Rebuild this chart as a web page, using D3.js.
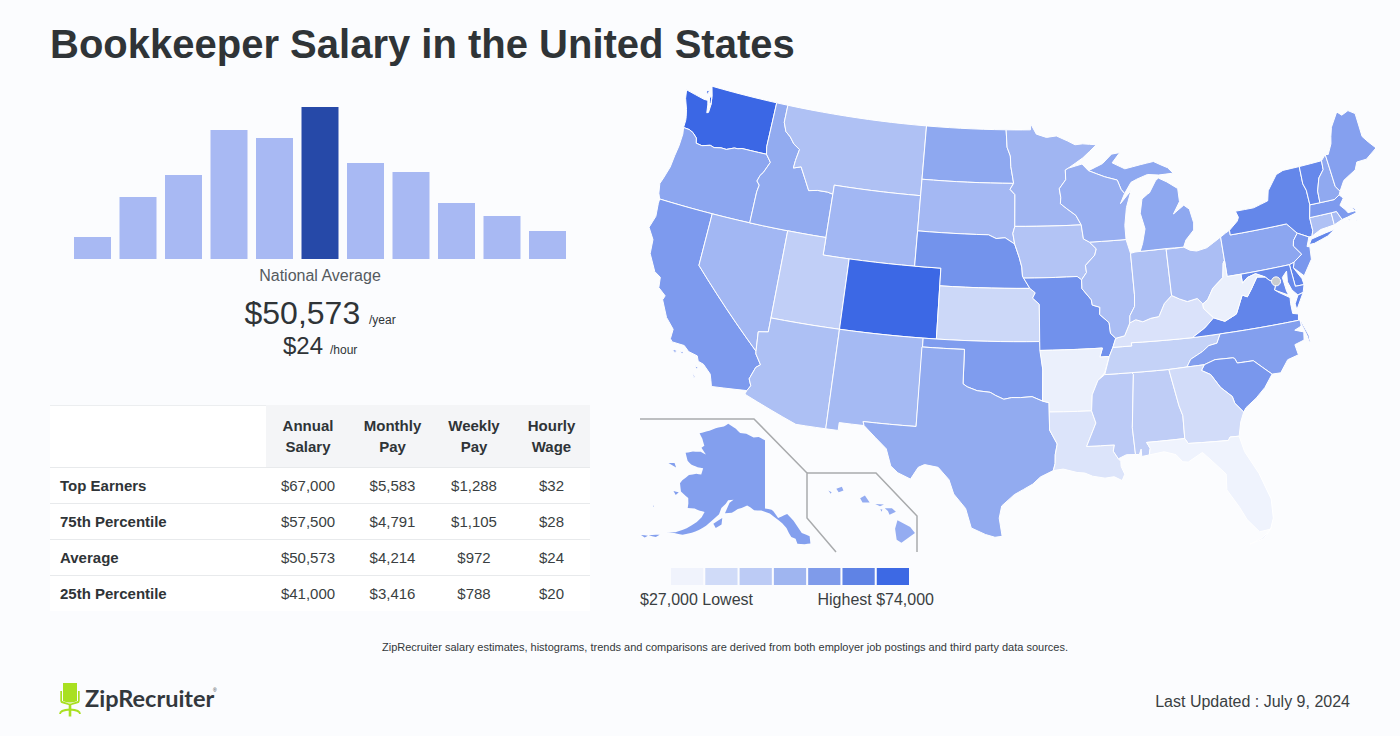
<!DOCTYPE html>
<html><head><meta charset="utf-8">
<script src="https://cdn.jsdelivr.net/npm/d3@7"></script>
<style>
html,body{margin:0;padding:0;background:#fbfcfe;}
svg{display:block;font-family:"Liberation Sans",Arial,Helvetica,sans-serif;}
</style></head><body>
<svg id="c" width="1400" height="736"></svg>
<script>
// ---------- chart data ----------
const histogramBins = [22,62,84,129,121,152,96,87,56,43,28];
const highlightedBin = 5;
const tableColumns = [["Annual","Salary"],["Monthly","Pay"],["Weekly","Pay"],["Hourly","Wage"]];
const tableRowLabels = ["Top Earners","75th Percentile","Average","25th Percentile"];
const annualSalary = ["$67,000","$57,500","$50,573","$41,000"];
const monthlyPay = ["$5,583","$4,791","$4,214","$3,416"];
const weeklyPay = ["$1,288","$1,105","$972","$788"];
const hourlyWage = ["$32","$28","$24","$20"];
const legendColors = ["#f0f3fc","#d0dbf8","#bccbf5","#9fb5f0","#7f9bea","#5f83e5","#3d69e4"];
const stateSalaries = {WA:74000,CO:73800,NY:63500,VA:64000,VT:63000,DE:64500,NJ:58000,MD:62500,CT:44000,MA:57000,RI:46000,NH:52000,ME:55000,
 PA:53000,OH:45000,IN:44000,IL:45000,MI:52500,WI:50000,MN:48000,IA:43000,MO:60000,KS:36500,NE:59500,SD:47000,ND:52500,MT:44000,WY:47500,ID:51500,
 OR:53000,NV:47500,UT:39500,CA:57000,AZ:44500,NM:46500,TX:51500,OK:56500,AR:28500,LA:32500,MS:41000,AL:40000,GA:35000,FL:27500,SC:58000,NC:55500,
 TN:38500,KY:33000,WV:28500,AK:55500,HI:51000};
// state outlines: "west-longitude,latitude" pairs; "|" separates separate land pieces
const stateOutlines = {
WA:"124.73,48.38 123.1,48.15 122.75,48.15 122.65,47.9 122.55,47.45 122.42,47.5 122.4,47.95 122.5,48.45 122.75,49 117.03,49 117.04,46.42 116.92,46 118.98,46 119.3,45.93 119.6,45.92 120.2,45.73 120.65,45.74 121.2,45.65 121.55,45.72 122.2,45.57 122.7,45.62 122.8,45.9 123.2,46.15 123.55,46.25 124.05,46.27 124.05,46.7 124.1,46.9 124.25,47.3 124.6,47.9|123.1,48.65 122.85,48.72 122.9,48.45|122.72,48.4 122.5,48.35 122.4,47.98 122.55,48.05",
OR:"124.05,46.27 123.95,45.9 123.97,45.2 124.07,44.6 124.15,43.9 124.4,43.2 124.55,42.84 124.4,42.3 124.21,42 117.03,42 117.03,43.8 116.95,44.2 117.2,44.4 117.05,44.75 116.85,44.95 116.47,45.6 116.92,46 118.98,46 119.3,45.93 119.6,45.92 120.2,45.73 120.65,45.74 121.2,45.65 121.55,45.72 122.2,45.57 122.7,45.62 122.8,45.9 123.2,46.15 123.55,46.25",
CA:"124.21,42 120,42 120,39 114.63,35 114.6,34.85 114.14,34.3 114.43,34.1 114.72,33.4 114.52,33.03 114.72,32.72 117.13,32.53 117.25,32.85 117.4,33.2 118,33.65 118.4,33.75 118.55,34.03 119.2,34.15 119.6,34.42 120.47,34.45 120.65,34.6 120.63,35.15 121.3,35.7 121.9,36.6 121.8,36.85 122.4,37.2 122.5,37.78 123,38 123.7,38.9 123.8,39.7 124.35,40.3 124.1,41 124.21,41.75|119.9,34.05 119.5,34.05 119.6,33.95|120.35,34.05 120,34.05 120.1,33.9|118.55,33.47 118.3,33.4 118.4,33.3|118.6,33.05 118.35,32.85 118.45,32.8",
NV:"120,42 114.04,42 114.04,36.2 114.74,36.1 114.63,35 120,39",
ID:"117.03,49 116.05,49 116.05,48 115.75,47.5 115.3,47.25 114.9,46.9 114.35,46.65 114.5,46 114.55,45.55 113.95,45.7 113.45,45.05 113,44.45 112.3,44.55 111.5,44.55 111.05,44.48 111.05,42 117.03,42 117.03,43.8 116.95,44.2 117.2,44.4 117.05,44.75 116.85,44.95 116.47,45.6 116.92,46 117.04,46.42",
MT:"116.05,49 104.05,49 104.05,45 111.05,45 111.05,44.48 111.5,44.55 112.3,44.55 113,44.45 113.45,45.05 113.95,45.7 114.55,45.55 114.5,46 114.35,46.65 114.9,46.9 115.3,47.25 115.75,47.5 116.05,48",
WY:"111.05,45 104.05,45 104.05,41 111.05,41",
UT:"114.04,42 111.05,42 111.05,41 109.05,41 109.05,37 114.04,37",
CO:"109.05,41 102.05,41 102.05,37 109.05,37",
AZ:"114.04,37 109.05,37 109.05,31.33 111.07,31.33 114.81,32.5 114.72,32.72 114.52,33.03 114.72,33.4 114.43,34.1 114.14,34.3 114.6,34.85 114.63,35 114.74,36.1 114.04,36.2",
NM:"109.05,37 103,37 103.04,32 106.62,32 106.53,31.78 108.21,31.78 108.21,31.33 109.05,31.33",
ND:"104.05,49 97.23,49 97.13,48 96.85,47.5 96.8,46.9 96.56,45.94 104.05,45.94",
SD:"104.05,45.94 96.56,45.94 96.85,45.6 96.45,45.3 96.45,43.5 96.6,43.1 96.45,42.5 97.2,42.85 97.9,42.8 98.5,43 104.05,43",
NE:"104.05,43 98.5,43 97.9,42.8 97.2,42.85 96.45,42.5 96.1,41.75 95.9,41.2 95.85,40.7 95.3,40 102.05,40 102.05,41 104.05,41",
KS:"102.05,40 95.3,40 94.9,39.75 95.1,39.45 94.61,39.1 94.62,37 102.05,37",
OK:"103,37 94.62,37 94.43,35.4 94.48,33.64 95.2,33.9 96,33.85 96.6,33.85 97.15,33.75 97.7,33.95 98.1,34.13 99,34.2 99.7,34.4 100,34.56 100,36.5 103,36.5",
TX:"103.04,36.5 100,36.5 100,34.56 99.7,34.4 99,34.2 98.1,34.13 97.7,33.95 97.15,33.75 96.6,33.85 96,33.85 95.2,33.9 94.48,33.64 94.04,33.55 94.04,33.02 94.04,32 93.55,31.2 93.7,30.6 93.72,30.1 93.85,29.7 94.7,29.35 95.2,28.95 96.4,28.35 97.2,27.7 97.35,27 97.15,25.96 97.6,25.9 98.2,26.05 99.1,26.4 99.5,27.5 100.3,28.3 100.65,29.1 101.4,29.77 102.3,29.88 102.7,29.7 103.15,29 104,29.3 104.5,29.65 104.9,30.6 106.53,31.78 106.62,32 103.04,32",
MN:"97.23,49 95.15,49 95.15,49.38 94.65,48.75 93.8,48.55 92.95,48.62 92,48.3 91.4,48.07 90.75,48.1 89.6,48 90.8,47.3 92.05,46.75 92.3,46.65 92.3,46.1 92.85,45.6 92.75,45.1 92.8,44.75 92.3,44.45 91.6,44.05 91.22,43.5 96.45,43.5 96.45,45.3 96.85,45.6 96.56,45.94 96.8,46.9 96.85,47.5 97.13,48",
IA:"96.45,43.5 91.22,43.5 91.1,42.7 90.65,42.5 90.15,42.1 90.3,41.75 91.05,41.2 91,40.8 91.4,40.4 91.72,40.6 95.77,40.58 95.85,40.7 95.9,41.2 96.1,41.75 96.45,42.5 96.6,43.1",
MO:"95.77,40.58 91.72,40.6 91.4,40.4 91.4,39.9 90.75,39.25 90.7,38.95 90.15,38.8 90.2,38.4 89.55,37.9 89.5,37.3 89.15,37 89.4,36.5 89.7,36 90.37,36 90.15,36.5 94.62,36.5 94.62,37 94.61,39.1 95.1,39.45 94.9,39.75 95.3,40",
AR:"94.62,36.5 90.15,36.5 90.37,36 89.7,36 90.1,35.1 90.6,34.7 91.05,33.9 91.15,33 94.04,33.02 94.04,33.55 94.48,33.64 94.43,35.4",
LA:"94.04,33.02 91.15,33 90.9,32.3 91.6,31 89.75,31 89.85,30.65 89.55,30.2 89.4,30.05 89.4,29.75 89.2,29.3 89.4,28.95 89.9,29.2 90.5,29.15 91.3,29.3 91.8,29.5 92.3,29.55 93.2,29.77 93.85,29.7 93.72,30.1 93.7,30.6 93.55,31.2 94.04,32",
MS:"90.1,35 88.2,35 88.1,34.9 88.47,31.9 88.4,30.37 89,30.4 89.55,30.2 89.85,30.65 89.75,31 91.6,31 90.9,32.3 91.15,33 91.05,33.9 90.6,34.7",
AL:"88.2,35 85.6,34.98 85.18,32.87 85,32.3 85.05,31 87.6,31 87.4,30.65 87.5,30.28 88,30.23 88,30.65 88.15,30.35 88.4,30.37 88.47,31.9 88.1,34.9",
TN:"89.7,36 89.4,36.5 88.05,36.5 88.07,36.68 86.5,36.65 83.68,36.6 81.68,36.59 82,36.1 82.6,36.03 83.1,35.75 84,35.4 84.32,35 85.6,34.98 88.2,35 90.1,35",
KY:"89.4,36.5 89.15,37 88.5,37.1 88.05,37.8 87.6,37.95 87.1,37.8 86.5,37.95 85.9,38 85.4,38.7 84.8,39.1 84.25,38.85 83.7,38.65 82.95,38.75 82.6,38.4 82.6,38.15 81.97,37.54 82.7,37.05 83.68,36.6 86.5,36.65 88.07,36.68 88.05,36.5",
IL:"90.65,42.5 87.8,42.5 87.55,41.7 87.53,39.35 87.6,38.7 88,38.2 88.05,37.8 88.5,37.1 89.15,37 89.5,37.3 89.55,37.9 90.2,38.4 90.15,38.8 90.7,38.95 90.75,39.25 91.4,39.9 91.4,40.4 91,40.8 91.05,41.2 90.3,41.75 90.15,42.1",
IN:"87.55,41.7 87.2,41.75 86.8,41.76 84.8,41.76 84.8,39.1 85.4,38.7 85.9,38 86.5,37.95 87.1,37.8 87.6,37.95 88.05,37.8 88,38.2 87.6,38.7 87.53,39.35",
OH:"84.8,41.72 83.45,41.72 83,41.5 82.5,41.4 81.7,41.5 80.52,41.98 80.52,40.64 80.65,40.5 80.85,39.7 81.7,39.2 82.2,38.6 82.6,38.4 82.95,38.75 83.7,38.65 84.25,38.85 84.8,39.1",
MI:"86.8,41.76 84.8,41.76 83.45,41.72 83.2,42.1 82.5,42.6 82.42,43 82.6,43.8 83,44.07 83.9,43.65 83.3,44.3 83.3,45.05 84.1,45.5 84.75,45.78 85,45.65 85.6,45 85.75,44.95 86.25,44.7 86.5,43.9 86.25,43 86.55,42.2|90.4,46.55 89.2,46.9 88.4,47.4 87.7,47.45 88.4,46.9 87.4,46.5 86.1,46.65 85,46.75 84.4,46.5 83.9,46.3 83.5,45.95 84.7,45.95 85.6,46.05 86.5,45.85 87,45.7 87.6,45.1 87.85,45.35 88.1,45.9 89.1,46.14",
WI:"92.05,46.75 90.9,46.95 90.4,46.55 89.1,46.14 88.1,45.9 87.85,45.35 87.6,45.1 88,44.55 87.05,45.25 87.55,44.3 87.8,43.3 87.8,42.5 90.65,42.5 91.1,42.7 91.22,43.5 91.6,44.05 92.3,44.45 92.8,44.75 92.75,45.1 92.85,45.6 92.3,46.1 92.3,46.65",
PA:"80.52,41.98 80.1,42.15 79.76,42.27 79.76,42 75.35,42 74.7,41.36 75.1,41 75.2,40.7 74.72,40.15 75.42,39.8 75.79,39.72 80.52,39.72",
NY:"79.76,42.27 79.05,42.7 78.9,42.9 79.05,43.27 77.6,43.27 76.4,43.5 76.2,44.05 75.3,44.85 74.7,45 73.35,45 73.4,44 73.25,43.6 73.25,42.75 73.5,42.05 73.5,41.3 73.66,41 73.9,41 74.7,41.36 75.35,42 79.76,42|74,40.58 73.75,40.85 72.6,41 71.87,41.07 72.5,40.8 73.6,40.58",
NJ:"74.7,41.36 73.9,41 74.2,40.5 74,40.45 74.1,39.75 74.9,38.93 75.55,39.5 75.42,39.8 74.72,40.15 75.2,40.7 75.1,41",
DE:"75.79,39.72 75.42,39.8 75.55,39.5 75.1,38.8 75.05,38.45 75.7,38.46",
MD:"79.48,39.72 75.79,39.72 75.7,38.46 75.05,38.45 75.24,38.03 75.65,37.95 76,38.3 76.2,38.8 76.1,39.4 76.5,39.1 76.4,38.3 76.3,38.05 77.05,38.4 77.25,38.5 77.05,38.85 77.5,39.1 77.75,39.32 78.4,39.6 79.05,39.47 79.48,39.2",
VA:"83.68,36.6 81.68,36.59 76,36.55 75.9,36.9 76.3,37 76.3,37.55 76.25,37.9 76.95,38.3 77.25,38.5 77.05,38.85 77.5,39.1 77.75,39.32 78.35,39.4 78.9,38.8 79.3,38.4 79.65,38.55 80.3,37.55 81.2,37.25 81.97,37.54 82.7,37.05|75.65,37.95 75.24,38.03 75.95,37.15 75.98,37.5",
WV:"80.52,40.64 80.52,39.72 79.48,39.72 79.48,39.2 79.05,39.47 78.4,39.6 77.75,39.32 78.35,39.4 78.9,38.8 79.3,38.4 79.65,38.55 80.3,37.55 81.2,37.25 81.97,37.54 82.6,38.15 82.6,38.4 82.2,38.6 81.7,39.2 80.85,39.7 80.65,40.5",
NC:"84.32,35 84,35.4 83.1,35.75 82.6,36.03 82,36.1 81.68,36.59 76,36.55 75.85,36.55 75.9,36.2 76.4,36.05 75.8,35.85 75.9,35.4 76.6,35.25 76.5,34.65 77.3,34.5 77.95,33.85 78.55,33.87 79.67,34.8 80.8,34.82 80.93,35.1 81.05,35.15 82.3,35.2 83.1,35|75.85,36.55 75.5,35.6 75.5,35.22 75.58,35.25 75.62,35.6 75.9,36.5",
SC:"83.1,35 82.3,35.2 81.05,35.15 80.93,35.1 80.8,34.82 79.67,34.8 78.55,33.87 79.2,33.2 79.9,32.7 80.7,32.25 80.9,32.03 81.4,32.6 81.5,33 82.2,33.6 82.75,34.4 83.35,34.7",
GA:"85.6,34.98 84.32,35 83.1,35 83.35,34.7 82.75,34.4 82.2,33.6 81.5,33 81.4,32.6 80.9,32.03 81.2,31.5 81.45,30.72 82.05,30.75 82.2,30.57 84.86,30.7 85.05,31 85,32.3 85.18,32.87",
FL:"87.6,31 85.05,31 84.86,30.7 82.2,30.57 82.05,30.75 81.45,30.72 81.25,29.8 80.55,28.45 80.05,26.9 80.12,25.8 80.4,25.2 81.1,25.15 81.75,25.95 82.1,26.7 82.75,27.8 82.65,28.7 83.4,29.5 84,30.1 85,29.65 85.35,29.7 85.75,30.15 86.5,30.38 87.5,30.28 87.4,30.65|80.3,25.3 80.9,24.72 81.8,24.53 80.95,24.8",
CT:"73.5,42.05 71.8,42.02 71.8,41.32 72.9,41.25 73.66,41 73.5,41.3",
RI:"71.8,42.02 71.38,42.02 71.12,41.5 71.8,41.32",
MA:"73.25,42.75 71.3,42.7 70.85,42.88 70.6,42.65 71,42.3 70.65,41.95 70.55,41.78 70,41.78 70.25,42.07 69.95,41.9 69.95,41.65 70.65,41.55 71.12,41.5 71.38,42.02 71.8,42.02 73.5,42.05|70.8,41.45 70.5,41.4 70.6,41.35|70.2,41.3 69.97,41.28 70.05,41.24",
VT:"73.35,45 71.5,45.01 71.55,44.5 72.05,44.1 72.4,43.4 72.45,42.73 73.25,42.75 73.25,43.6 73.4,44",
NH:"71.5,45.01 71.08,45.3 71.03,44.5 70.97,43.4 70.7,43.07 70.85,42.88 71.3,42.7 72.45,42.73 72.4,43.4 72.05,44.1 71.55,44.5",
ME:"71.08,45.3 70.85,45.25 70.4,45.8 70.25,46.2 70,46.7 69.23,47.46 68.9,47.2 68.3,47.35 67.8,47.07 67.8,45.7 67.45,45.3 67,44.85 68,44.4 68.8,44.4 69.1,44 69.8,43.75 70.2,43.6 70.7,43.07 70.97,43.4 71.03,44.5"
};
const alaskaOutline = "141,69.65 143.5,70.1 145.5,70 148.5,70.4 151,70.4 153,70.9 156.5,71.35 158,70.85 161,70.3 163,69.7 166.2,68.88 164.5,68.3 163,67.5 163.7,67.1 161.5,66.4 163.5,66.55 166,66.2 168.1,65.65 166.5,64.75 165,64.45 162.8,64.4 161,64.5 161,63.6 162.5,63.5 164.5,63 165.8,62 166.1,61.5 165,60.5 162.5,60 162,59.3 161.8,58.7 160,58.9 158.5,58.8 157.2,58.8 157.6,58 158.5,57.2 160.5,56 162.8,55 164.9,54.6 163,54.85 161,55 159,55.6 157.5,56.2 156,57 154.5,58.1 153.3,58.9 153,59.8 152,60.5 151.5,61 150,61.2 151,60.7 151.8,59.2 150,59.4 148.5,60 147.5,60.2 146,60.6 145,60.35 144,60 142,60 139.7,59.6 138,58.9 136.5,58.2 135.5,57.5 135,56.8 134.5,56.2 133.5,55.9 133.2,55.2 131.5,55 130.1,55 130,56 131.8,56.6 133.5,58.4 135,59.4 137.5,58.95 138.7,59.9 139.2,60.1 141,60.3|152.3,58.5 154.3,57.5 153.5,57 152.2,57.6|171.7,63.4 169,63.3 170,63.75|167,60.2 165.5,60.3 166,59.8|170.4,57.2 170.1,57.1 170.2,57.25|168.4,53.3 166.1,53.95 166.7,53.45|170,52.9 168.5,53.2 169,52.8";
const hawaiiOutline = "155.9,20.25 155.1,19.85 154.8,19.5 155.65,18.92 155.95,19.1 156.05,19.75|156.7,20.95 156.25,20.95 156,20.75 156.4,20.58 156.5,20.8|157.3,21.2 156.75,21.17 157,21.08|156.98,20.9 156.85,20.88 156.9,20.75|158.25,21.55 157.95,21.7 157.65,21.3 158.1,21.3|159.75,22.1 159.4,22.22 159.3,22 159.6,21.9|160.25,22 160.05,21.9 160.1,21.8";
const districtOfColumbia = [-77.03, 38.9];

// ---------- page ----------
const svg = d3.select("#c");
const ink = "#2f3437";
svg.append("text").attr("x",50).attr("y",58).attr("font-size",40).attr("font-weight",700).attr("fill",ink)
  .text("Bookkeeper Salary in the United States");

// histogram
const xBar = d3.scaleBand().domain(d3.range(histogramBins.length)).range([74,566]).paddingInner(0.187);
const yBar = d3.scaleLinear().domain([0,152]).range([259,107]);
svg.append("g").selectAll("rect").data(histogramBins).join("rect")
  .attr("x",(d,i)=>xBar(i)).attr("width",xBar.bandwidth())
  .attr("y",d=>yBar(d)).attr("height",d=>yBar(0)-yBar(d))
  .attr("fill",(d,i)=>i===highlightedBin?"#2649a8":"#a8b9f3");

const centre = (t,x,y,s,f,w)=>svg.append("text").attr("x",x).attr("y",y).attr("text-anchor","middle")
  .attr("font-size",s).attr("fill",f||ink).attr("font-weight",w||400).text(t);
const left = (t,x,y,s,f,w)=>svg.append("text").attr("x",x).attr("y",y)
  .attr("font-size",s).attr("fill",f||ink).attr("font-weight",w||400).text(t);
centre("National Average",320,281,16,"#555a5e");
left("$50,573",244.5,324,32); left("/year",369,324,12);
left("$24",283,354,24); left("/hour",330,354,12);

// table
const tX=[50,266,590], colX=[308,392.5,474,551.5], rowTop=[467,503,539,575];
svg.append("rect").attr("x",tX[0]).attr("y",405).attr("width",tX[2]-tX[0]).attr("height",206).attr("fill","#fff");
svg.append("rect").attr("x",tX[1]).attr("y",405).attr("width",tX[2]-tX[1]).attr("height",62).attr("fill","#f4f5f7");
svg.append("line").attr("x1",tX[0]).attr("x2",tX[1]).attr("y1",405.5).attr("y2",405.5).attr("stroke","#eceef0");
tableColumns.forEach((c,i)=>{
  centre(c[0],colX[i],431,15,ink,700); centre(c[1],colX[i],452,15,ink,700);
});
rowTop.forEach(y=>svg.append("line").attr("x1",tX[0]).attr("x2",tX[2]).attr("y1",y+.5).attr("y2",y+.5).attr("stroke","#e8eaec"));
const cols=[annualSalary,monthlyPay,weeklyPay,hourlyWage];
tableRowLabels.forEach((l,r)=>{
  left(l,60,rowTop[r]+24,15,ink,700);
  cols.forEach((c,i)=>centre(c[r],colX[i],rowTop[r]+24,15,"#3a3f42"));
});

// map
const salaryColor = d3.scaleLinear().domain([27000,74000]).range(["#f1f4fd","#3b67e5"]);
const albers = d3.geoAlbers().rotate([96,0]).center([0,38.7]).parallels([29.5,45.5]).scale(1008).translate([1020.5,311.5]);
const alaska = d3.geoConicEqualArea().rotate([141,0]).parallels([55,65]).center([0,65]).scale(418).translate([765,474]);
const hawaii = d3.geoMercator().rotate([157,0]).center([0,20.5]).scale(910).translate([880,516]);
const parse = s=>s.split("|").map(p=>p.trim().split(/\s+/).map(q=>{const [a,b]=q.split(",").map(Number);return [-a,b];}));
// subdivide long edges so straight parallels follow the conic curve
const dense = ring=>{const o=[];ring.forEach((p,i)=>{const q=ring[(i+1)%ring.length];
  const n=Math.max(1,Math.ceil(Math.abs(q[0]-p[0])/1));
  for(let k=0;k<n;k++)o.push([p[0]+(q[0]-p[0])*k/n,p[1]+(q[1]-p[1])*k/n]);});return o;};
const ringLine=d3.line();
const pathOf=(outline,proj)=>parse(outline).map(r=>ringLine(dense(r).map(proj))+"Z").join("");
const mapG=svg.append("g");
mapG.selectAll("path.st").data(Object.keys(stateOutlines)).join("path").attr("class","st")
  .attr("d",k=>pathOf(stateOutlines[k],albers)).attr("fill",k=>salaryColor(stateSalaries[k]))
  .attr("stroke","#fff").attr("stroke-width",1).attr("stroke-linejoin","round");
mapG.append("path").attr("d",pathOf(alaskaOutline,alaska)).attr("fill",salaryColor(stateSalaries.AK));
mapG.append("path").attr("d",pathOf(hawaiiOutline,hawaii)).attr("fill",salaryColor(stateSalaries.HI));
const dc=albers(districtOfColumbia);
mapG.append("circle").attr("cx",dc[0]).attr("cy",dc[1]-1).attr("r",4.5).attr("fill","#c9ccd0").attr("stroke","#fff").attr("stroke-width",1);
const frame=d3.line();
[[[640,419],[754,419],[807,473],[807,518],[836,552]],[[807,473],[876,473],[917,516],[917,552]]]
 .forEach(p=>svg.append("path").attr("d",frame(p)).attr("fill","none").attr("stroke","#a9abad").attr("stroke-width",1.5));

// legend
const xLeg=d3.scaleBand().domain(d3.range(legendColors.length)).range([671,909]).paddingInner(0.06);
svg.append("g").selectAll("rect").data(legendColors).join("rect")
  .attr("x",(d,i)=>xLeg(i)).attr("y",568).attr("width",xLeg.bandwidth()).attr("height",17).attr("fill",d=>d);
left("$27,000 Lowest",640,605,16,"#3a3f42");
svg.append("text").attr("x",934).attr("y",605).attr("text-anchor","end").attr("font-size",16).attr("fill","#3a3f42").text("Highest $74,000");

// footer
centre("ZipRecruiter salary estimates, histograms, trends and comparisons are derived from both employer job postings and third party data sources.",725,651,11,"#33383b");
svg.append("text").attr("x",1350).attr("y",707).attr("text-anchor","end").attr("font-size",16).attr("fill","#3a3f42").text("Last Updated : July 9, 2024");

// logo
const g=svg.append("g").attr("fill","#a9e021");
g.append("path").attr("d","M63 683H77V701Q70 704 63 701Z");
g.append("path").attr("d","M62 691H60.3V701Q60.3 703 63 703.5L68.5 705H71.5L77 703.5Q79.7 703 79.7 701V691H78V701L71 703.5H69L62 701Z");
g.append("rect").attr("x",68.7).attr("y",704).attr("width",2.6).attr("height",12.5);
g.append("path").attr("d","M60 714Q60 710 70 709.5Q80 710 80 714").attr("fill","none").attr("stroke","#a9e021").attr("stroke-width",1.8);
svg.append("text").attr("x",85).attr("y",707).attr("font-family","Lato").attr("font-size",23.5).attr("font-weight",700).attr("fill","#33383d").text("ZipRecruiter");
svg.append("text").attr("x",213).attr("y",692).attr("font-size",5).attr("fill","#33383d").text("®");
</script>
</body></html>
